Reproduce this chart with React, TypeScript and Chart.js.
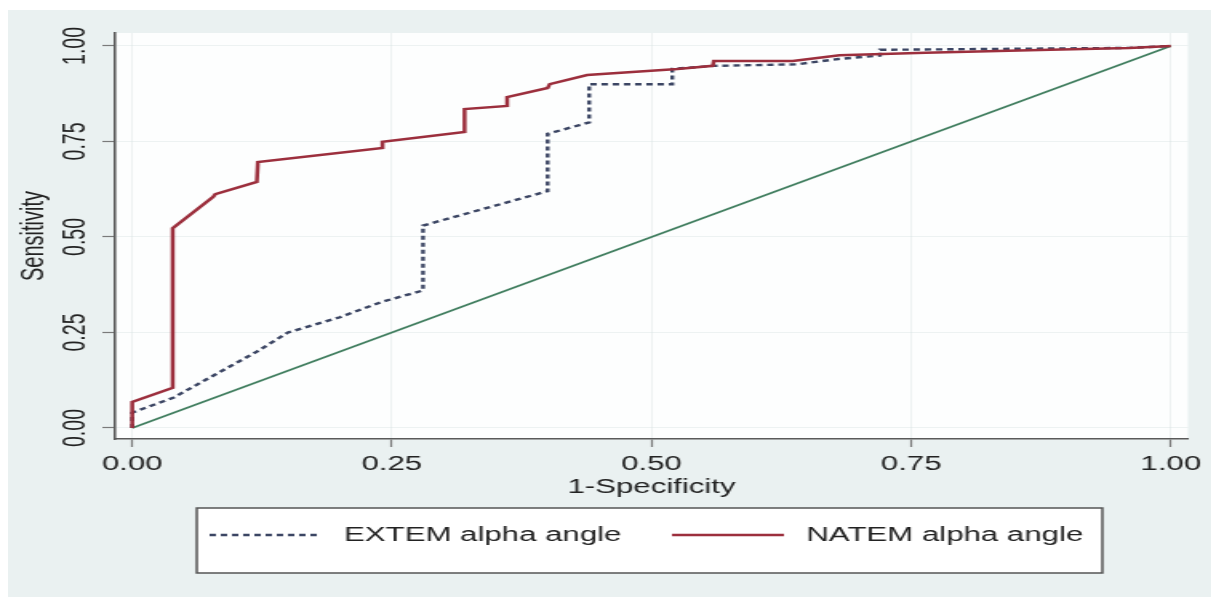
import React, { useEffect, useRef } from "react";
import { Chart, registerables } from "chart.js";

Chart.register(...registerables);

// ---------- data ----------
const X_TICKS = [0, 0.25, 0.5, 0.75, 1];
const X_TICK_LABELS = ["0.00", "0.25", "0.50", "0.75", "1.00"];
const Y_TICKS = [0, 0.25, 0.5, 0.75, 1];
const Y_TICK_LABELS = ["0.00", "0.25", "0.50", "0.75", "1.00"];
const X_TITLE = "1-Specificity";
const Y_TITLE = "Sensitivity";
const SERIES_LABELS = ["EXTEM alpha angle", "NATEM alpha angle"];

const EXTEM_X = [0, 0, 0.04, 0.08, 0.12, 0.15, 0.2, 0.24, 0.28, 0.28, 0.4, 0.4, 0.44, 0.44, 0.52, 0.52, 0.56, 0.64, 0.68, 0.72, 0.72, 0.96, 1];
const EXTEM_Y = [0, 0.04, 0.08, 0.14, 0.2, 0.25, 0.29, 0.33, 0.36, 0.53, 0.62, 0.77, 0.8, 0.9, 0.9, 0.94, 0.948, 0.952, 0.966, 0.975, 0.99, 0.995, 1];

const NATEM_X = [0, 0, 0.039, 0.039, 0.078, 0.08, 0.12, 0.121, 0.241, 0.241, 0.32, 0.32, 0.361, 0.361, 0.4, 0.402, 0.438, 0.525, 0.559, 0.56, 0.636, 0.681, 0.764, 0.884, 0.96, 1];
const NATEM_Y = [0, 0.068, 0.105, 0.523, 0.605, 0.612, 0.644, 0.696, 0.733, 0.749, 0.775, 0.835, 0.843, 0.866, 0.89, 0.9, 0.924, 0.94, 0.948, 0.961, 0.961, 0.976, 0.982, 0.99, 0.995, 1];

const REF_X = [0, 1];
const REF_Y = [0, 1];

// ---------- styles ----------
const FONT = "'Liberation Sans', Arial, Helvetica, sans-serif";
const TEXT = "#222222";
const OUTER_BG = "#eaf1f1";
const STRETCH = 1.6;
const INNER_W = 752;
const H = 587;

const toPts = (xs: number[], ys: number[]) => xs.map((x, i) => ({ x, y: ys[i] }));

const bgPlugin = {
  id: "bg",
  beforeDraw(chart: any) {
    const { ctx, chartArea } = chart;
    ctx.save();
    ctx.fillStyle = OUTER_BG;
    ctx.fillRect(0, 0, chart.width, chart.height);
    ctx.fillStyle = "#fdfefe";
    ctx.fillRect(chartArea.left, chartArea.top, chartArea.right - chartArea.left, chartArea.bottom - chartArea.top);
    ctx.restore();
  },
};

const yTickPlugin = {
  id: "yTickLabels",
  afterDraw(chart: any) {
    const s = chart.scales.y;
    const ctx = chart.ctx;
    ctx.save();
    ctx.font = `19.5px ${FONT}`;
    ctx.fillStyle = TEXT;
    ctx.textAlign = "center";
    ctx.textBaseline = "middle";
    Y_TICKS.forEach((v, i) => {
      const y = s.getPixelForValue(v);
      ctx.save();
      ctx.translate(s.right - 24.5, y);
      ctx.rotate(-Math.PI / 2);
      ctx.fillText(Y_TICK_LABELS[i], 0, 0);
      ctx.restore();
    });
    ctx.restore();
  },
};

const legendPlugin = {
  id: "boxLegend",
  afterDraw(chart: any) {
    const ctx = chart.ctx;
    const box = { x: 118, y: 498, w: 566, h: 65 };
    const itemX = [126, 415];
    const sampleLen = 70;
    const cy = box.y + 27;
    ctx.save();
    ctx.fillStyle = "#ffffff";
    ctx.fillRect(box.x, box.y, box.w, box.h);
    ctx.strokeStyle = "#555";
    ctx.lineWidth = 1.5;
    ctx.strokeRect(box.x, box.y, box.w, box.h);
    const items = chart.data.datasets.filter((d: any) => d.inLegend);
    items.forEach((d: any, i: number) => {
      const x0 = itemX[i];
      ctx.save();
      ctx.strokeStyle = d.borderColor;
      ctx.lineWidth = d.borderWidth;
      ctx.setLineDash(d.borderDash || []);
      ctx.beginPath();
      ctx.moveTo(x0, cy);
      ctx.lineTo(x0 + sampleLen, cy);
      ctx.stroke();
      ctx.restore();
      ctx.font = `19.5px ${FONT}`;
      ctx.fillStyle = TEXT;
      ctx.textAlign = "left";
      ctx.textBaseline = "middle";
      ctx.fillText(d.label, x0 + sampleLen + 14, cy + 1);
    });
    ctx.restore();
  },
};

export default function App() {
  const ref = useRef<HTMLCanvasElement | null>(null);

  useEffect(() => {
    if (!ref.current) return;
    const gridCommon = {
      color: "rgba(212,224,224,0.4)",
      lineWidth: 1,
      tickLength: 8,
      tickColor: "#7a7a7a",
      tickWidth: 1.2,
    };
    const chart = new Chart(ref.current, {
      type: "scatter",
      data: {
        datasets: [
          {
            label: SERIES_LABELS[0],
            inLegend: true,
            data: toPts(EXTEM_X, EXTEM_Y),
            showLine: true,
            borderColor: "#3b4563",
            borderWidth: 2.4,
            borderDash: [4, 3],
            pointRadius: 0,
            fill: false,
            order: 1,
          } as any,
          {
            label: SERIES_LABELS[1],
            inLegend: true,
            data: toPts(NATEM_X, NATEM_Y),
            showLine: true,
            borderColor: "#9c2f3d",
            borderWidth: 2.5,
            pointRadius: 0,
            fill: false,
            order: 0,
          } as any,
          {
            label: "reference",
            inLegend: false,
            data: toPts(REF_X, REF_Y),
            showLine: true,
            borderColor: "#3f7d5e",
            borderWidth: 1.6,
            pointRadius: 0,
            fill: false,
            order: 2,
          } as any,
        ],
      },
      options: {
        animation: false,
        responsive: true,
        maintainAspectRatio: false,
        layout: { padding: { left: 0, right: 14.5, top: 23, bottom: 98 } },
        plugins: { legend: { display: false }, tooltip: { enabled: false } },
        scales: {
          x: {
            type: "linear",
            min: -0.0164,
            max: 1.0164,
            afterBuildTicks: (s: any) => {
              s.ticks = X_TICKS.map((v) => ({ value: v }));
            },
            afterFit: (s: any) => {
              s.height = 60;
            },
            ticks: {
              autoSkip: false,
              maxRotation: 0,
              padding: 6,
              color: TEXT,
              font: { family: FONT, size: 19.5 },
              callback: (_v: any, i: number) => X_TICK_LABELS[i],
            },
            grid: gridCommon,
            border: { color: "#5a5a5a", width: 1.6 },
            title: {
              display: true,
              text: X_TITLE,
              color: TEXT,
              font: { family: FONT, size: 19.5 },
              padding: { top: 0, bottom: 0 },
            },
          },
          y: {
            type: "linear",
            min: -0.0288,
            max: 1.034,
            afterBuildTicks: (s: any) => {
              s.ticks = Y_TICKS.map((v) => ({ value: v }));
            },
            afterFit: (s: any) => {
              s.width = 67;
            },
            ticks: { display: false },
            grid: gridCommon,
            border: { color: "#5a5a5a", width: 1.6 },
            title: {
              display: true,
              text: Y_TITLE,
              color: TEXT,
              font: { family: FONT, size: 20 },
              padding: { top: 4, bottom: 0 },
            },
          },
        },
      } as any,
      plugins: [bgPlugin, yTickPlugin, legendPlugin],
    });
    return () => chart.destroy();
  }, []);

  return (
    <div
      style={{
        position: "fixed",
        left: 8,
        top: 10,
        width: Math.round(INNER_W * STRETCH),
        height: H,
        overflow: "hidden",
      }}
    >
      <div
        style={{
          position: "relative",
          width: INNER_W,
          height: H,
          transform: `scaleX(${STRETCH})`,
          transformOrigin: "0 0",
        }}
      >
        <canvas ref={ref} />
      </div>
    </div>
  );
}
